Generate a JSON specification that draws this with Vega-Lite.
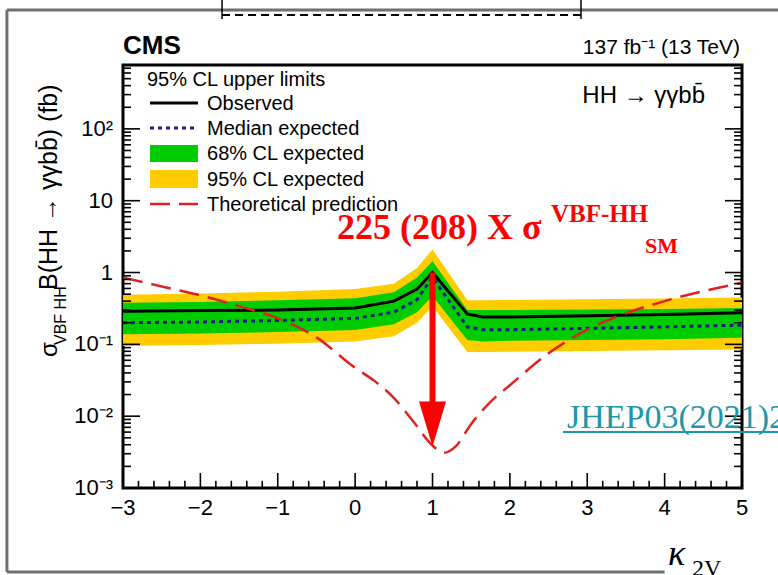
{
  "$schema": "https://vega.github.io/schema/vega-lite/v6.json",
  "width": 619,
  "height": 423,
  "autosize": {"type": "none"},
  "padding": {"left": 123, "top": 65, "right": 36, "bottom": 87},
  "background": "white",
  "config": {
    "view": {"stroke": "black", "strokeWidth": 3},
    "font": "Liberation Sans"
  },
  "datasets": {
    "limits": [
      {"k": -3, "obs": 0.29, "exp": 0.2, "lo68": 0.138, "hi68": 0.38, "lo95": 0.095, "hi95": 0.49},
      {"k": -2, "obs": 0.295, "exp": 0.205, "lo68": 0.142, "hi68": 0.39, "lo95": 0.098, "hi95": 0.51},
      {"k": -1, "obs": 0.3, "exp": 0.215, "lo68": 0.148, "hi68": 0.41, "lo95": 0.102, "hi95": 0.54},
      {"k": 0, "obs": 0.32, "exp": 0.23, "lo68": 0.158, "hi68": 0.44, "lo95": 0.11, "hi95": 0.59},
      {"k": 0.5, "obs": 0.4, "exp": 0.28, "lo68": 0.19, "hi68": 0.53, "lo95": 0.13, "hi95": 0.7},
      {"k": 0.8, "obs": 0.59, "exp": 0.42, "lo68": 0.28, "hi68": 0.85, "lo95": 0.2, "hi95": 1.16},
      {"k": 1, "obs": 1.0, "exp": 0.86, "lo68": 0.47, "hi68": 1.44, "lo95": 0.34, "hi95": 2.1},
      {"k": 1.45, "obs": 0.265, "exp": 0.175, "lo68": 0.115, "hi68": 0.3, "lo95": 0.078, "hi95": 0.41},
      {"k": 1.65, "obs": 0.24, "exp": 0.16, "lo68": 0.11, "hi68": 0.3, "lo95": 0.078, "hi95": 0.41},
      {"k": 2, "obs": 0.24, "exp": 0.16, "lo68": 0.112, "hi68": 0.3, "lo95": 0.079, "hi95": 0.415},
      {"k": 3, "obs": 0.25, "exp": 0.167, "lo68": 0.115, "hi68": 0.305, "lo95": 0.081, "hi95": 0.425},
      {"k": 4, "obs": 0.26, "exp": 0.175, "lo68": 0.118, "hi68": 0.31, "lo95": 0.083, "hi95": 0.435},
      {"k": 5, "obs": 0.275, "exp": 0.185, "lo68": 0.124, "hi68": 0.32, "lo95": 0.085, "hi95": 0.45}
    ],
    "theory": [
      {"k": -3, "xs": 0.85}, {"k": -2.5, "xs": 0.64}, {"k": -2, "xs": 0.48}, {"k": -1.5, "xs": 0.34},
      {"k": -1, "xs": 0.23}, {"k": -0.5, "xs": 0.125}, {"k": 0, "xs": 0.047}, {"k": 0.25, "xs": 0.031},
      {"k": 0.5, "xs": 0.018}, {"k": 0.75, "xs": 0.0085}, {"k": 1.0, "xs": 0.0039}, {"k": 1.15, "xs": 0.0031},
      {"k": 1.3, "xs": 0.0038}, {"k": 1.5, "xs": 0.0078}, {"k": 1.75, "xs": 0.0158}, {"k": 2.0, "xs": 0.027},
      {"k": 2.5, "xs": 0.075}, {"k": 3.0, "xs": 0.16}, {"k": 3.5, "xs": 0.27}, {"k": 4.0, "xs": 0.4},
      {"k": 4.5, "xs": 0.55}, {"k": 5.0, "xs": 0.72}
    ],
    "xlabels": [{"v": -3, "lab": "−3"}, {"v": -2, "lab": "−2"}, {"v": -1, "lab": "−1"}, {"v": 0, "lab": "0"}, {"v": 1, "lab": "1"},
                {"v": 2, "lab": "2"}, {"v": 3, "lab": "3"}, {"v": 4, "lab": "4"}, {"v": 5, "lab": "5"}],
    "ylabels": [{"v": 0.001, "lab": "10⁻³"}, {"v": 0.01, "lab": "10⁻²"}, {"v": 0.1, "lab": "10⁻¹"}, {"v": 1, "lab": "1"},
                {"v": 10, "lab": "10"}, {"v": 100, "lab": "10²"}]
  },
  "layer": [
    {
      "data": {"name": "limits"},
      "mark": {"type": "area", "interpolate": "linear", "color": "#ffcc00"},
      "encoding": {
        "x": {"field": "k", "type": "quantitative", "scale": {"domain": [-3, 5], "nice": false, "zero": false}, "axis": null},
        "y": {"field": "lo95", "type": "quantitative", "scale": {"type": "log", "domain": [0.001, 775], "nice": false}, "axis": null},
        "y2": {"field": "hi95"}
      }
    },
    {
      "data": {"name": "limits"},
      "mark": {"type": "area", "interpolate": "linear", "color": "#00cc00"},
      "encoding": {
        "x": {"field": "k", "type": "quantitative", "scale": {"domain": [-3, 5], "nice": false, "zero": false}, "axis": null},
        "y": {"field": "lo68", "type": "quantitative", "scale": {"type": "log", "domain": [0.001, 775], "nice": false}, "axis": null},
        "y2": {"field": "hi68"}
      }
    },
    {
      "data": {"name": "limits"},
      "mark": {"type": "line", "interpolate": "linear", "strokeWidth": 3, "strokeDash": [4, 4], "strokeCap": "butt", "color": "#1a1a8c"},
      "encoding": {
        "x": {"field": "k", "type": "quantitative", "scale": {"domain": [-3, 5], "nice": false, "zero": false}, "axis": null},
        "y": {"field": "exp", "type": "quantitative", "scale": {"type": "log", "domain": [0.001, 775], "nice": false}, "axis": null}
      }
    },
    {
      "data": {"name": "limits"},
      "mark": {"type": "line", "interpolate": "linear", "strokeWidth": 3, "color": "#000000"},
      "encoding": {
        "x": {"field": "k", "type": "quantitative", "scale": {"domain": [-3, 5], "nice": false, "zero": false}, "axis": null},
        "y": {"field": "obs", "type": "quantitative", "scale": {"type": "log", "domain": [0.001, 775], "nice": false}, "axis": null}
      }
    },
    {
      "data": {"name": "theory"},
      "mark": {"type": "line", "interpolate": "monotone", "strokeWidth": 2.5, "strokeDash": [20, 9], "color": "#dd2222"},
      "encoding": {
        "x": {"field": "k", "type": "quantitative", "scale": {"domain": [-3, 5], "nice": false, "zero": false}, "axis": null},
        "y": {"field": "xs", "type": "quantitative", "scale": {"type": "log", "domain": [0.001, 775], "nice": false}, "axis": null}
      }
    },
    {
      "data": {"values": [{"t": -2}, {"t": -1}, {"t": 0}, {"t": 1}, {"t": 2}, {"t": 3}, {"t": 4}]},
      "mark": {"type": "rule", "color": "black", "strokeWidth": 1.6, "opacity": 1},
      "encoding": {
        "x": {"field": "t", "type": "quantitative", "scale": {"domain": [-3, 5], "nice": false, "zero": false}, "axis": null},
        "y": {"datum": 0.001, "type": "quantitative", "scale": {"type": "log", "domain": [0.001, 775], "nice": false}, "axis": null},
        "y2": {"datum": 0.001618}
      }
    },
    {
      "data": {"values": [{"t": -2.8}, {"t": -2.6}, {"t": -2.4}, {"t": -2.2}, {"t": -1.8}, {"t": -1.6}, {"t": -1.4}, {"t": -1.2},
                          {"t": -0.8}, {"t": -0.6}, {"t": -0.4}, {"t": -0.2}, {"t": 0.2}, {"t": 0.4}, {"t": 0.6}, {"t": 0.8},
                          {"t": 1.2}, {"t": 1.4}, {"t": 1.6}, {"t": 1.8}, {"t": 2.2}, {"t": 2.4}, {"t": 2.6}, {"t": 2.8},
                          {"t": 3.2}, {"t": 3.4}, {"t": 3.6}, {"t": 3.8}, {"t": 4.2}, {"t": 4.4}, {"t": 4.6}, {"t": 4.8}]},
      "mark": {"type": "rule", "color": "black", "strokeWidth": 1.6, "opacity": 1},
      "encoding": {
        "x": {"field": "t", "type": "quantitative", "scale": {"domain": [-3, 5], "nice": false, "zero": false}, "axis": null},
        "y": {"datum": 0.001, "type": "quantitative", "scale": {"type": "log", "domain": [0.001, 775], "nice": false}, "axis": null},
        "y2": {"datum": 0.00126}
      }
    },
    {
      "data": {"values": [{"t": 0.01}, {"t": 0.1}, {"t": 1}, {"t": 10}, {"t": 100}]},
      "mark": {"type": "rule", "color": "black", "strokeWidth": 1.6, "opacity": 1},
      "encoding": {
        "x": {"datum": -3, "type": "quantitative", "scale": {"domain": [-3, 5], "nice": false, "zero": false}, "axis": null},
        "x2": {"datum": -2.78},
        "y": {"field": "t", "type": "quantitative", "scale": {"type": "log", "domain": [0.001, 775], "nice": false}, "axis": null}
      }
    },
    {
      "data": {"values": [{"t": 0.002}, {"t": 0.003}, {"t": 0.004}, {"t": 0.005}, {"t": 0.006}, {"t": 0.007}, {"t": 0.008}, {"t": 0.009},
                          {"t": 0.02}, {"t": 0.03}, {"t": 0.04}, {"t": 0.05}, {"t": 0.06}, {"t": 0.07}, {"t": 0.08}, {"t": 0.09},
                          {"t": 0.2}, {"t": 0.3}, {"t": 0.4}, {"t": 0.5}, {"t": 0.6}, {"t": 0.7}, {"t": 0.8}, {"t": 0.9},
                          {"t": 2}, {"t": 3}, {"t": 4}, {"t": 5}, {"t": 6}, {"t": 7}, {"t": 8}, {"t": 9},
                          {"t": 20}, {"t": 30}, {"t": 40}, {"t": 50}, {"t": 60}, {"t": 70}, {"t": 80}, {"t": 90},
                          {"t": 200}, {"t": 300}, {"t": 400}, {"t": 500}, {"t": 600}, {"t": 700}]},
      "mark": {"type": "rule", "color": "black", "strokeWidth": 1.6, "opacity": 1},
      "encoding": {
        "x": {"datum": -3, "type": "quantitative", "scale": {"domain": [-3, 5], "nice": false, "zero": false}, "axis": null},
        "x2": {"datum": -2.897},
        "y": {"field": "t", "type": "quantitative", "scale": {"type": "log", "domain": [0.001, 775], "nice": false}, "axis": null}
      }
    },
    {
      "data": {"values": [{"t": 0.01}, {"t": 0.1}, {"t": 1}, {"t": 10}, {"t": 100}]},
      "mark": {"type": "rule", "color": "black", "strokeWidth": 1.6, "opacity": 1},
      "encoding": {
        "x": {"datum": 5, "type": "quantitative", "scale": {"domain": [-3, 5], "nice": false, "zero": false}, "axis": null},
        "x2": {"datum": 4.78},
        "y": {"field": "t", "type": "quantitative", "scale": {"type": "log", "domain": [0.001, 775], "nice": false}, "axis": null}
      }
    },
    {
      "data": {"values": [{"t": 0.002}, {"t": 0.003}, {"t": 0.004}, {"t": 0.005}, {"t": 0.006}, {"t": 0.007}, {"t": 0.008}, {"t": 0.009},
                          {"t": 0.02}, {"t": 0.03}, {"t": 0.04}, {"t": 0.05}, {"t": 0.06}, {"t": 0.07}, {"t": 0.08}, {"t": 0.09},
                          {"t": 0.2}, {"t": 0.3}, {"t": 0.4}, {"t": 0.5}, {"t": 0.6}, {"t": 0.7}, {"t": 0.8}, {"t": 0.9},
                          {"t": 2}, {"t": 3}, {"t": 4}, {"t": 5}, {"t": 6}, {"t": 7}, {"t": 8}, {"t": 9},
                          {"t": 20}, {"t": 30}, {"t": 40}, {"t": 50}, {"t": 60}, {"t": 70}, {"t": 80}, {"t": 90},
                          {"t": 200}, {"t": 300}, {"t": 400}, {"t": 500}, {"t": 600}, {"t": 700}]},
      "mark": {"type": "rule", "color": "black", "strokeWidth": 1.6, "opacity": 1},
      "encoding": {
        "x": {"datum": 5, "type": "quantitative", "scale": {"domain": [-3, 5], "nice": false, "zero": false}, "axis": null},
        "x2": {"datum": 4.897},
        "y": {"field": "t", "type": "quantitative", "scale": {"type": "log", "domain": [0.001, 775], "nice": false}, "axis": null}
      }
    },
    {
      "data": {"name": "xlabels"},
      "mark": {"type": "text", "font": "Liberation Sans", "fontSize": 22, "color": "black", "align": "center", "baseline": "middle", "dy": 20},
      "encoding": {
        "x": {"field": "v", "type": "quantitative", "scale": {"domain": [-3, 5], "nice": false, "zero": false}, "axis": null},
        "y": {"datum": 0.001, "type": "quantitative", "scale": {"type": "log", "domain": [0.001, 775], "nice": false}, "axis": null},
        "text": {"field": "lab"}
      }
    },
    {
      "data": {"name": "ylabels"},
      "mark": {"type": "text", "font": "Liberation Sans", "fontSize": 22, "color": "black", "align": "right", "baseline": "middle", "dx": -10},
      "encoding": {
        "x": {"datum": -3, "type": "quantitative", "scale": {"domain": [-3, 5], "nice": false, "zero": false}, "axis": null},
        "y": {"field": "v", "type": "quantitative", "scale": {"type": "log", "domain": [0.001, 775], "nice": false}, "axis": null},
        "text": {"field": "lab"}
      }
    },
    {
      "data": {"values": [{}]},
      "mark": {"type": "text", "font": "Liberation Sans", "fontSize": 20, "color": "black", "align": "left", "baseline": "alphabetic"},
      "encoding": {
        "x": {"datum": -2.69, "type": "quantitative", "scale": {"domain": [-3, 5], "nice": false, "zero": false}, "axis": null},
        "y": {"datum": 395, "type": "quantitative", "scale": {"type": "log", "domain": [0.001, 775], "nice": false}, "axis": null},
        "text": {"value": "95% CL upper limits"}
      }
    },
    {
      "data": {"values": [{}]},
      "mark": {"type": "rule", "color": "#000000", "strokeWidth": 3},
      "encoding": {
        "x": {"datum": -2.651, "type": "quantitative", "scale": {"domain": [-3, 5], "nice": false, "zero": false}, "axis": null},
        "x2": {"datum": -2.031},
        "y": {"datum": 229, "type": "quantitative", "scale": {"type": "log", "domain": [0.001, 775], "nice": false}, "axis": null}
      }
    },
    {
      "data": {"values": [{}]},
      "mark": {"type": "text", "font": "Liberation Sans", "fontSize": 20, "color": "black", "align": "left", "baseline": "alphabetic"},
      "encoding": {
        "x": {"datum": -1.914, "type": "quantitative", "scale": {"domain": [-3, 5], "nice": false, "zero": false}, "axis": null},
        "y": {"datum": 183, "type": "quantitative", "scale": {"type": "log", "domain": [0.001, 775], "nice": false}, "axis": null},
        "text": {"value": "Observed"}
      }
    },
    {
      "data": {"values": [{}]},
      "mark": {"type": "rule", "color": "#1a1a8c", "strokeWidth": 3, "strokeDash": [4, 4]},
      "encoding": {
        "x": {"datum": -2.651, "type": "quantitative", "scale": {"domain": [-3, 5], "nice": false, "zero": false}, "axis": null},
        "x2": {"datum": -2.031},
        "y": {"datum": 102.8, "type": "quantitative", "scale": {"type": "log", "domain": [0.001, 775], "nice": false}, "axis": null}
      }
    },
    {
      "data": {"values": [{}]},
      "mark": {"type": "text", "font": "Liberation Sans", "fontSize": 20, "color": "black", "align": "left", "baseline": "alphabetic"},
      "encoding": {
        "x": {"datum": -1.914, "type": "quantitative", "scale": {"domain": [-3, 5], "nice": false, "zero": false}, "axis": null},
        "y": {"datum": 82.1, "type": "quantitative", "scale": {"type": "log", "domain": [0.001, 775], "nice": false}, "axis": null},
        "text": {"value": "Median expected"}
      }
    },
    {
      "data": {"values": [{}]},
      "mark": {"type": "rect", "color": "#00cc00"},
      "encoding": {
        "x": {"datum": -2.651, "type": "quantitative", "scale": {"domain": [-3, 5], "nice": false, "zero": false}, "axis": null},
        "x2": {"datum": -2.031},
        "y": {"datum": 59.6, "type": "quantitative", "scale": {"type": "log", "domain": [0.001, 775], "nice": false}, "axis": null},
        "y2": {"datum": 34.6}
      }
    },
    {
      "data": {"values": [{}]},
      "mark": {"type": "text", "font": "Liberation Sans", "fontSize": 20, "color": "black", "align": "left", "baseline": "alphabetic"},
      "encoding": {
        "x": {"datum": -1.914, "type": "quantitative", "scale": {"domain": [-3, 5], "nice": false, "zero": false}, "axis": null},
        "y": {"datum": 37.2, "type": "quantitative", "scale": {"type": "log", "domain": [0.001, 775], "nice": false}, "axis": null},
        "text": {"value": "68% CL expected"}
      }
    },
    {
      "data": {"values": [{}]},
      "mark": {"type": "rect", "color": "#ffcc00"},
      "encoding": {
        "x": {"datum": -2.651, "type": "quantitative", "scale": {"domain": [-3, 5], "nice": false, "zero": false}, "axis": null},
        "x2": {"datum": -2.031},
        "y": {"datum": 26.7, "type": "quantitative", "scale": {"type": "log", "domain": [0.001, 775], "nice": false}, "axis": null},
        "y2": {"datum": 15.0}
      }
    },
    {
      "data": {"values": [{}]},
      "mark": {"type": "text", "font": "Liberation Sans", "fontSize": 20, "color": "black", "align": "left", "baseline": "alphabetic"},
      "encoding": {
        "x": {"datum": -1.914, "type": "quantitative", "scale": {"domain": [-3, 5], "nice": false, "zero": false}, "axis": null},
        "y": {"datum": 16.0, "type": "quantitative", "scale": {"type": "log", "domain": [0.001, 775], "nice": false}, "axis": null},
        "text": {"value": "95% CL expected"}
      }
    },
    {
      "data": {"values": [{}]},
      "mark": {"type": "rule", "color": "#dd2222", "strokeWidth": 2.5, "strokeDash": [20, 9]},
      "encoding": {
        "x": {"datum": -2.651, "type": "quantitative", "scale": {"domain": [-3, 5], "nice": false, "zero": false}, "axis": null},
        "x2": {"datum": -2.031},
        "y": {"datum": 9.0, "type": "quantitative", "scale": {"type": "log", "domain": [0.001, 775], "nice": false}, "axis": null}
      }
    },
    {
      "data": {"values": [{}]},
      "mark": {"type": "text", "font": "Liberation Sans", "fontSize": 20, "color": "black", "align": "left", "baseline": "alphabetic"},
      "encoding": {
        "x": {"datum": -1.914, "type": "quantitative", "scale": {"domain": [-3, 5], "nice": false, "zero": false}, "axis": null},
        "y": {"datum": 7.18, "type": "quantitative", "scale": {"type": "log", "domain": [0.001, 775], "nice": false}, "axis": null},
        "text": {"value": "Theoretical prediction"}
      }
    },
    {
      "data": {"values": [{}]},
      "mark": {"type": "rule", "color": "#ff0000", "strokeWidth": 6},
      "encoding": {
        "x": {"datum": 1, "type": "quantitative", "scale": {"domain": [-3, 5], "nice": false, "zero": false}, "axis": null},
        "y": {"datum": 1.0, "type": "quantitative", "scale": {"type": "log", "domain": [0.001, 775], "nice": false}, "axis": null},
        "y2": {"datum": 0.0143}
      }
    },
    {
      "data": {"values": [{}]},
      "mark": {"type": "point", "shape": "M-0.6,-1L0.6,-1L0,1Z", "size": 2025, "filled": true, "color": "#ff0000", "opacity": 1},
      "encoding": {
        "x": {"datum": 1, "type": "quantitative", "scale": {"domain": [-3, 5], "nice": false, "zero": false}, "axis": null},
        "y": {"datum": 0.00778, "type": "quantitative", "scale": {"type": "log", "domain": [0.001, 775], "nice": false}, "axis": null}
      }
    },
    {
      "data": {"values": [{}]},
      "mark": {"type": "text", "font": "Liberation Serif", "fontWeight": "bold", "fontSize": 36, "color": "#ff0000", "align": "left", "baseline": "alphabetic"},
      "encoding": {
        "x": {"datum": -0.234, "type": "quantitative", "scale": {"domain": [-3, 5], "nice": false, "zero": false}, "axis": null},
        "y": {"datum": 2.93, "type": "quantitative", "scale": {"type": "log", "domain": [0.001, 775], "nice": false}, "axis": null},
        "text": {"value": "225 (208) X σ"}
      }
    },
    {
      "data": {"values": [{}]},
      "mark": {"type": "text", "font": "Liberation Serif", "fontWeight": "bold", "fontSize": 25, "color": "#ff0000", "align": "left", "baseline": "alphabetic"},
      "encoding": {
        "x": {"datum": 2.531, "type": "quantitative", "scale": {"domain": [-3, 5], "nice": false, "zero": false}, "axis": null},
        "y": {"datum": 5.05, "type": "quantitative", "scale": {"type": "log", "domain": [0.001, 775], "nice": false}, "axis": null},
        "text": {"value": "VBF-HH"}
      }
    },
    {
      "data": {"values": [{}]},
      "mark": {"type": "text", "font": "Liberation Serif", "fontWeight": "bold", "fontSize": 22, "color": "#ff0000", "align": "left", "baseline": "alphabetic"},
      "encoding": {
        "x": {"datum": 3.746, "type": "quantitative", "scale": {"domain": [-3, 5], "nice": false, "zero": false}, "axis": null},
        "y": {"datum": 1.87, "type": "quantitative", "scale": {"type": "log", "domain": [0.001, 775], "nice": false}, "axis": null},
        "text": {"value": "SM"}
      }
    },
    {
      "data": {"values": [{}]},
      "mark": {"type": "text", "font": "Liberation Serif", "fontSize": 34, "color": "#1f97a8", "align": "left", "baseline": "alphabetic"},
      "encoding": {
        "x": {"datum": 2.738, "type": "quantitative", "scale": {"domain": [-3, 5], "nice": false, "zero": false}, "axis": null},
        "y": {"datum": 0.00684, "type": "quantitative", "scale": {"type": "log", "domain": [0.001, 775], "nice": false}, "axis": null},
        "text": {"value": "JHEP03(2021)257"}
      }
    },
    {
      "data": {"values": [{}]},
      "mark": {"type": "rule", "color": "#1f97a8", "strokeWidth": 2},
      "encoding": {
        "x": {"datum": 2.686, "type": "quantitative", "scale": {"domain": [-3, 5], "nice": false, "zero": false}, "axis": null},
        "x2": {"datum": 5.5},
        "y": {"datum": 0.00602, "type": "quantitative", "scale": {"type": "log", "domain": [0.001, 775], "nice": false}, "axis": null}
      }
    },
    {
      "data": {"values": [{}]},
      "mark": {"type": "text", "font": "Liberation Sans", "fontSize": 24, "color": "black", "align": "right", "baseline": "alphabetic"},
      "encoding": {
        "x": {"datum": 4.522, "type": "quantitative", "scale": {"domain": [-3, 5], "nice": false, "zero": false}, "axis": null},
        "y": {"datum": 229, "type": "quantitative", "scale": {"type": "log", "domain": [0.001, 775], "nice": false}, "axis": null},
        "text": {"value": "HH → γγbb̄"}
      }
    },
    {
      "data": {"values": [{}]},
      "mark": {"type": "text", "font": "Liberation Sans", "fontWeight": "bold", "fontSize": 26, "color": "black", "align": "left", "baseline": "alphabetic"},
      "encoding": {
        "x": {"datum": -3, "type": "quantitative", "scale": {"domain": [-3, 5], "nice": false, "zero": false}, "axis": null},
        "y": {"datum": 1100, "type": "quantitative", "scale": {"type": "log", "domain": [0.001, 775], "nice": false}, "axis": null},
        "text": {"value": "CMS"}
      }
    },
    {
      "data": {"values": [{}]},
      "mark": {"type": "text", "font": "Liberation Sans", "fontSize": 21, "color": "black", "align": "right", "baseline": "alphabetic"},
      "encoding": {
        "x": {"datum": 4.974, "type": "quantitative", "scale": {"domain": [-3, 5], "nice": false, "zero": false}, "axis": null},
        "y": {"datum": 1100, "type": "quantitative", "scale": {"type": "log", "domain": [0.001, 775], "nice": false}, "axis": null},
        "text": {"value": "137 fb⁻¹ (13 TeV)"}
      }
    },
    {
      "data": {"values": [{}]},
      "mark": {"type": "text", "font": "Liberation Sans", "fontSize": 24, "color": "black", "align": "left", "baseline": "alphabetic", "angle": 270},
      "encoding": {
        "x": {"datum": -3.853, "type": "quantitative", "scale": {"domain": [-3, 5], "nice": false, "zero": false}, "axis": null},
        "y": {"datum": 0.0667, "type": "quantitative", "scale": {"type": "log", "domain": [0.001, 775], "nice": false}, "axis": null},
        "text": {"value": "σ"}
      }
    },
    {
      "data": {"values": [{}]},
      "mark": {"type": "text", "font": "Liberation Sans", "fontSize": 16, "color": "black", "align": "left", "baseline": "alphabetic", "angle": 270},
      "encoding": {
        "x": {"datum": -3.737, "type": "quantitative", "scale": {"domain": [-3, 5], "nice": false, "zero": false}, "axis": null},
        "y": {"datum": 0.098, "type": "quantitative", "scale": {"type": "log", "domain": [0.001, 775], "nice": false}, "axis": null},
        "text": {"value": "VBF HH"}
      }
    },
    {
      "data": {"values": [{}]},
      "mark": {"type": "text", "font": "Liberation Sans", "fontSize": 25, "color": "black", "align": "left", "baseline": "alphabetic", "angle": 270},
      "encoding": {
        "x": {"datum": -3.853, "type": "quantitative", "scale": {"domain": [-3, 5], "nice": false, "zero": false}, "axis": null},
        "y": {"datum": 0.571, "type": "quantitative", "scale": {"type": "log", "domain": [0.001, 775], "nice": false}, "axis": null},
        "text": {"value": "B(HH → γγbb̄) (fb)"}
      }
    },
    {
      "data": {"values": [{}]},
      "mark": {"type": "text", "font": "Liberation Serif", "fontStyle": "italic", "fontSize": 36, "color": "black", "align": "left", "baseline": "alphabetic"},
      "encoding": {
        "x": {"datum": 4.044, "type": "quantitative", "scale": {"domain": [-3, 5], "nice": false, "zero": false}, "axis": null},
        "y": {"datum": 0.0000847, "type": "quantitative", "scale": {"type": "log", "domain": [0.001, 775], "nice": false}, "axis": null},
        "text": {"value": "κ"}
      }
    },
    {
      "data": {"values": [{}]},
      "mark": {"type": "text", "font": "Liberation Serif", "fontSize": 24, "color": "black", "align": "left", "baseline": "alphabetic"},
      "encoding": {
        "x": {"datum": 4.354, "type": "quantitative", "scale": {"domain": [-3, 5], "nice": false, "zero": false}, "axis": null},
        "y": {"datum": 0.0000596, "type": "quantitative", "scale": {"type": "log", "domain": [0.001, 775], "nice": false}, "axis": null},
        "text": {"value": "2V"}
      }
    },
    {
      "data": {"values": [{}]},
      "mark": {"type": "rule", "color": "#707070", "strokeWidth": 3},
      "encoding": {
        "x": {"datum": -4.5, "type": "quantitative", "scale": {"domain": [-3, 5], "nice": false, "zero": false}, "axis": null},
        "x2": {"datum": 5.6},
        "y": {"datum": 4520, "type": "quantitative", "scale": {"type": "log", "domain": [0.001, 775], "nice": false}, "axis": null}
      }
    },
    {
      "data": {"values": [{}]},
      "mark": {"type": "rule", "color": "#707070", "strokeWidth": 3},
      "encoding": {
        "x": {"datum": -4.5, "type": "quantitative", "scale": {"domain": [-3, 5], "nice": false, "zero": false}, "axis": null},
        "y": {"datum": 4520, "type": "quantitative", "scale": {"type": "log", "domain": [0.001, 775], "nice": false}, "axis": null},
        "y2": {"datum": 0.0000678}
      }
    },
    {
      "data": {"values": [{}]},
      "mark": {"type": "rule", "color": "#707070", "strokeWidth": 3},
      "encoding": {
        "x": {"datum": -4.5, "type": "quantitative", "scale": {"domain": [-3, 5], "nice": false, "zero": false}, "axis": null},
        "x2": {"datum": 4.0},
        "y": {"datum": 0.0000678, "type": "quantitative", "scale": {"type": "log", "domain": [0.001, 775], "nice": false}, "axis": null}
      }
    },
    {
      "data": {"values": [{}]},
      "mark": {"type": "rule", "color": "black", "strokeWidth": 2, "strokeDash": [8, 5]},
      "encoding": {
        "x": {"datum": -1.72, "type": "quantitative", "scale": {"domain": [-3, 5], "nice": false, "zero": false}, "axis": null},
        "x2": {"datum": 2.919},
        "y": {"datum": 3846, "type": "quantitative", "scale": {"type": "log", "domain": [0.001, 775], "nice": false}, "axis": null}
      }
    },
    {
      "data": {"values": [{}]},
      "mark": {"type": "rule", "color": "black", "strokeWidth": 1.5},
      "encoding": {
        "x": {"datum": -1.72, "type": "quantitative", "scale": {"domain": [-3, 5], "nice": false, "zero": false}, "axis": null},
        "y": {"datum": 6223, "type": "quantitative", "scale": {"type": "log", "domain": [0.001, 775], "nice": false}, "axis": null},
        "y2": {"datum": 3381}
      }
    },
    {
      "data": {"values": [{}]},
      "mark": {"type": "rule", "color": "black", "strokeWidth": 1.5},
      "encoding": {
        "x": {"datum": 2.919, "type": "quantitative", "scale": {"domain": [-3, 5], "nice": false, "zero": false}, "axis": null},
        "y": {"datum": 6223, "type": "quantitative", "scale": {"type": "log", "domain": [0.001, 775], "nice": false}, "axis": null},
        "y2": {"datum": 3381}
      }
    }
  ]
}
